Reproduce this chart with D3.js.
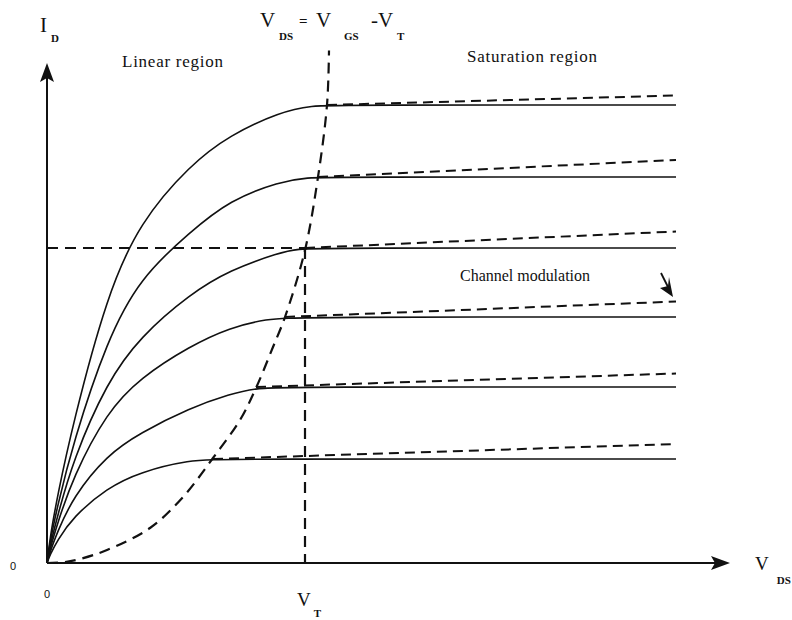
<!DOCTYPE html>
<html lang="en">
<head>
    <meta charset="UTF-8"/>
    <title>MOSFET output characteristics</title>
    <script src="https://d3js.org/d3.v7.min.js" charset="utf-8"></script>
    <style type="text/css">
        body { margin: 0; background: #fff; }
        text { font-family: "Liberation Serif", "Times New Roman", serif; fill: #111; }
        .curve { fill: none; stroke: #111; stroke-width: 1.6px; }
        .dash { fill: none; stroke: #111; stroke-width: 2.2px; stroke-dasharray: 11, 7; }
        .clm { fill: none; stroke: #111; stroke-width: 2px; stroke-dasharray: 10, 6; }
        .axis { fill: none; stroke: #111; stroke-width: 2px; }
        .sub { font-size: 11px; font-weight: bold; }
    </style>
</head>
<body>
<div id="diagram"></div>
<script type="text/javascript">

    // output curves, [VDS, ID], one array per VGS step
    var curve1 = [[0,0],[0.06,0.5],[0.2,1.30],[0.52,2.80],[1.2,5.36],[1.86,6.82],[2.86,7.96],[3.66,8.56],[4.66,9.02],[5.3,9.15],[5.9,9.16],[12.58,9.16]];
    var curve2 = [[0,0],[0.06,0.42],[0.2,1.10],[0.52,2.40],[1.2,4.46],[1.86,5.70],[2.86,6.62],[3.66,7.26],[4.66,7.63],[5.2,7.71],[5.8,7.72],[12.58,7.72]];
    var curve3 = [[0,0],[0.06,0.34],[0.2,0.90],[0.52,2.06],[1.2,3.62],[1.86,4.52],[2.86,5.38],[3.66,5.86],[4.66,6.21],[5.0,6.28],[5.6,6.30],[12.58,6.30]];
    var curve4 = [[0,0],[0.06,0.28],[0.2,0.76],[0.52,1.72],[1.2,3.02],[1.86,3.70],[2.86,4.34],[3.66,4.71],[4.4,4.88],[5.0,4.92],[12.58,4.92]];
    var curve5 = [[0,0],[0.06,0.22],[0.2,0.60],[0.52,1.32],[1.2,2.16],[1.86,2.60],[2.86,3.10],[3.66,3.38],[4.2,3.50],[4.8,3.52],[12.58,3.52]];
    var curve6 = [[0,0],[0.06,0.16],[0.2,0.44],[0.52,0.92],[1.2,1.50],[1.86,1.82],[2.86,2.06],[3.5,2.08],[12.58,2.08]];
    var curves = [curve1, curve2, curve3, curve4, curve5, curve6];

    // VDS = VGS - VT boundary
    var boundary = [[0,0],[0.36,0.02],[0.66,0.08],[1.20,0.26],[2.06,0.70],[2.72,1.32],[3.32,2.10],[3.86,2.86],[4.18,3.50],[4.52,4.32],[4.76,4.92],[5.16,6.26],[5.42,7.72],[5.60,9.16],[5.64,10.25]];

    // channel length modulation lines: start at knee, end value
    var clmStart = [[5.60,9.16],[5.42,7.72],[5.16,6.30],[4.76,4.92],[4.18,3.52],[3.32,2.08]];
    var clmEnd = [[12.58,9.35],[12.58,8.06],[12.58,6.63],[12.58,5.23],[12.58,3.79],[12.58,2.38]];

    var vt = 5.16, vtLevel = 6.30;

    var width = 792, height = 620;

    var x = d3.scaleLinear().domain([0, 13.66]).range([47, 730]);
    var y = d3.scaleLinear().domain([0, 10]).range([563, 63]);

    var svg = d3.select("#diagram")
        .append("svg")
        .attr("width", width)
        .attr("height", height);

    var line = d3.line()
        .x(function(d) { return x(d[0]); })
        .y(function(d) { return y(d[1]); })
        .curve(d3.curveBasis);

    // axes with arrow heads
    svg.append("line").attr("class", "axis")
        .attr("x1", x(0)).attr("y1", y(0)).attr("x2", x(0)).attr("y2", y(10) + 10);
    svg.append("line").attr("class", "axis")
        .attr("x1", x(0)).attr("y1", y(0)).attr("x2", x(13.66) - 10).attr("y2", y(0));
    svg.append("path")
        .attr("d", "M" + x(0) + "," + y(10) + "l-7,19l7,-4l7,4z")
        .attr("fill", "#111");
    svg.append("path")
        .attr("d", "M" + x(13.66) + "," + y(0) + "l-19,-7l4,7l-4,7z")
        .attr("fill", "#111");

    svg.selectAll("path.curve")
        .data(curves)
        .enter()
        .append("path")
        .attr("class", "curve")
        .attr("d", line);

    svg.selectAll("line.clm")
        .data(clmStart)
        .enter()
        .append("line")
        .attr("class", "clm")
        .attr("x1", function(d) { return x(d[0]); })
        .attr("y1", function(d) { return y(d[1]); })
        .attr("x2", function(d, i) { return x(clmEnd[i][0]); })
        .attr("y2", function(d, i) { return y(clmEnd[i][1]); });

    svg.append("path")
        .attr("class", "dash")
        .attr("d", line.curve(d3.curveCatmullRom.alpha(0.5))(boundary));

    svg.append("line").attr("class", "dash")
        .attr("x1", x(0)).attr("y1", y(vtLevel)).attr("x2", x(vt)).attr("y2", y(vtLevel));
    svg.append("line").attr("class", "dash")
        .attr("x1", x(vt)).attr("y1", y(vtLevel)).attr("x2", x(vt)).attr("y2", y(0));

    // arrow pointing at the modulation line
    var ax0 = x(12.28), ay0 = y(5.80), ax1 = x(12.52), ay1 = y(5.32);
    svg.append("line")
        .attr("x1", ax0).attr("y1", ay0).attr("x2", ax1 - 5).attr("y2", ay1 - 10)
        .attr("stroke", "#111").attr("stroke-width", 1.8);
    svg.append("path")
        .attr("d", "M" + ax1 + "," + ay1 + "l-13,-9l8,-2l1,-9z")
        .attr("fill", "#111");

    // labels
    function label(tx, ty, main, sub, dx, dy, size) {
        var g = svg.append("text").attr("x", tx).attr("y", ty).style("font-size", size + "px");
        g.append("tspan").text(main);
        if (sub) {
            g.append("tspan").attr("class", "sub").attr("dx", dx).attr("dy", dy).text(sub);
        }
    }

    label(40, 32, "I", "D", 4, 10, 21);
    label(755, 570, "V", "DS", 8, 14, 19);
    label(297, 606, "V", "T", 3, 11, 19);

    var title = svg.append("text").attr("y", 27).style("font-size", "21px");
    title.append("tspan").attr("x", 260).text("V");
    title.append("tspan").attr("class", "sub").attr("x", 279).attr("y", 40).text("DS");
    title.append("tspan").attr("x", 299).attr("y", 26).style("font-size", "15px").style("font-weight", "bold").text("=");
    title.append("tspan").attr("x", 316).attr("y", 27).text("V");
    title.append("tspan").attr("class", "sub").attr("x", 344).attr("y", 40).text("GS");
    title.append("tspan").attr("x", 371).attr("y", 27).text("-V");
    title.append("tspan").attr("class", "sub").attr("x", 397).attr("y", 40).text("T");

    svg.append("text").attr("x", 122).attr("y", 67).style("font-size", "17px")
        .attr("textLength", 101).text("Linear region");
    svg.append("text").attr("x", 467).attr("y", 62).style("font-size", "17px")
        .attr("textLength", 130).text("Saturation region");
    svg.append("text").attr("x", 460).attr("y", 281).style("font-size", "16px")
        .attr("textLength", 130).text("Channel modulation");

    svg.append("text").attr("x", 10).attr("y", 570)
        .style("font-family", "Liberation Sans, sans-serif").style("font-size", "11px").text("0");
    svg.append("text").attr("x", 44).attr("y", 598)
        .style("font-family", "Liberation Sans, sans-serif").style("font-size", "11px").text("0");

</script>
</body>
</html>
